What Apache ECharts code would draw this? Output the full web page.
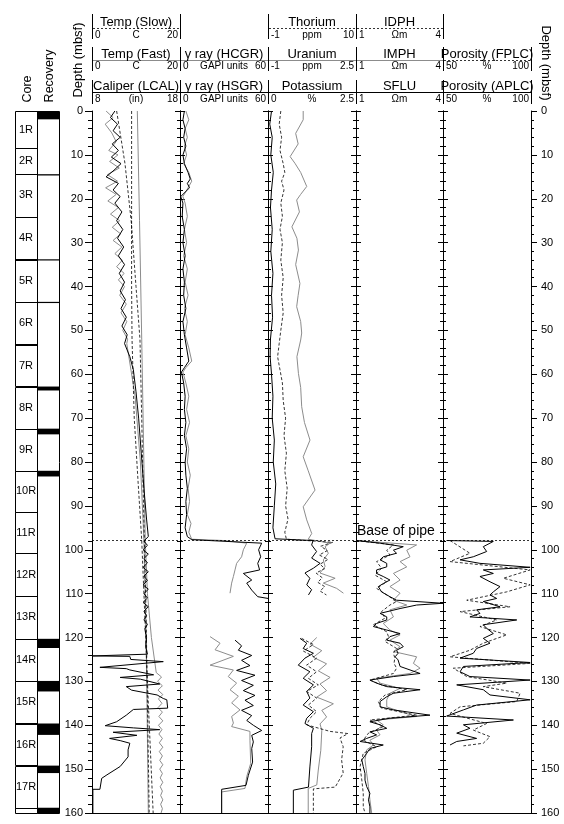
<!DOCTYPE html>
<html><head><meta charset="utf-8">
<script src="https://cdn.jsdelivr.net/npm/echarts@6.0.0/dist/echarts.min.js"></script>
<style>html,body{margin:0;padding:0;background:#fff}#c{width:564px;height:824px}</style>
</head><body><div id="c"></div><script>
// ---------------- DATA ----------------
const depthMin = 0, depthMax = 160, depthStep = 10;
const pipeDepth = 97.8;
const coreNames   = ['1R','2R','3R','4R','5R','6R','7R','8R','9R','10R','11R','12R','13R','14R','15R','16R','17R','18R'];
const coreTops    = [0,8.5,14.4,24.1,33.8,43.5,53.2,62.8,72.4,82.0,91.4,100.8,110.5,120.3,129.9,139.6,149.2,158.8];
const coreBottoms = [8.5,14.4,24.1,33.8,43.5,53.2,62.8,72.4,82.0,91.4,100.8,110.5,120.3,129.9,139.6,149.2,158.8,168.4];
const recoveryTops    = [0,14.4,33.8,43.5,62.8,72.4,82.0,120.3,129.9,139.6,149.2,158.8];
const recoveryBottoms = [1.9,14.7,34.0,43.7,63.7,73.7,83.3,122.4,132.3,142.2,150.9,160];

// header: [title, low tick, unit, high tick] per track, rows top->bottom
const track1Header = [['Temp (Slow)','0','C','20'],['Temp (Fast)','0','C','20'],['Caliper (LCAL)','8','(in)','18']];
const track2Header = [null,['γ ray (HCGR)','0','GAPI units','60'],['γ ray (HSGR)','0','GAPI units','60']];
const track3Header = [['Thorium','-1','ppm','10'],['Uranium','-1','ppm','2.5'],['Potassium','0','%','2.5']];
const track4Header = [['IDPH','1','Ωm','4'],['IMPH','1','Ωm','4'],['SFLU','1','Ωm','4']];
const track5Header = [null,['Porosity (FPLC)','50','%','100'],['Porosity (APLC)','50','%','100']];

// Track 1 : temperature (C) and caliper (in)   [value, depth]
const tempSlowDown = [[9.0,0],[9.0,20],[9.0,40],[9.1,52],[9.6,70],[10.5,85],[11.3,97.8],[12.0,115],[12.8,135],[13.9,160]];
const tempSlowUp = [[5.6,0],[7.5,12],[8.9,25],[10.0,40],[10.9,52],[11.3,70],[11.6,85],[11.9,97.8],[12.3,115],[12.6,135],[13.0,160]];
const tempFastDown = [[3.2,0],[4.8,1.5],[3.0,3],[4.5,5],[5.5,7],[3.8,9],[5.9,10],[4.0,11.5],[6.2,13],[3.5,14.5],[5.8,16],[3.1,17.5],[5.5,19],[3.6,20.5],[6.0,22],[4.2,23.5],[6.3,25],[4.6,26.5],[6.5,28],[4.8,29.5],[6.8,31],[5.2,32.5],[6.9,34],[5.6,35.5],[7.3,37],[6.0,38.5],[7.4,40],[6.3,42],[7.8,44],[6.6,46],[7.9,48],[7.0,50],[8.1,52],[7.9,53],[9.8,65],[11.0,80],[11.8,97.8],[12.2,115],[12.5,135],[12.8,160]];
const tempFastUp = [[10.3,0],[10.8,25],[11.3,52],[11.7,75],[12.1,97.8],[12.6,110],[13.5,120],[14.6,128],[15.8,129],[14.9,130],[16.0,131],[15.0,132],[16.1,133],[15.1,134],[15.9,135],[15.0,136],[16.0,137],[15.2,138],[16.1,139],[15.1,140],[15.9,141],[15.2,142],[16.0,143],[15.3,144],[16.1,145],[15.3,146],[16.0,147],[15.4,148],[16.1,149],[15.4,150],[16.0,151],[15.5,152],[16.1,153],[15.5,154],[16.0,155],[15.6,156],[16.1,157],[15.6,158],[16.0,159],[15.7,160]];
const caliper = [[10.6,0],[10.1,1.5],[10.9,3],[10.4,4.5],[11.2,6],[10.3,7.5],[11.0,9],[10.2,10.5],[11.3,12],[10.5,13.5],[9.6,15],[11.0,16.5],[10.4,18],[11.2,19.5],[10.6,21],[11.4,23],[10.8,25],[11.5,27],[10.9,29],[11.6,31],[11.0,33],[11.7,35],[11.1,37],[11.7,39],[11.2,41],[11.8,43],[11.3,45],[11.9,47],[11.4,49],[12.0,51],[11.7,53],[12.3,56],[12.7,59],[13.0,64],[13.3,70],[13.6,78],[13.9,86],[14.2,93],[14.4,97],[13.9,98],[14.3,99],[13.8,100],[14.4,101],[13.9,102],[14.3,103],[13.8,104],[14.4,105],[13.9,106],[14.3,107],[13.8,108],[14.4,109],[13.9,110],[14.3,111],[13.8,112],[14.4,113],[13.9,114],[14.2,115],[13.9,116],[14.3,117],[14.0,118],[14.2,120],[14.1,122],[14.3,123.8],[8.1,124.2],[12.3,124.3],[12.4,125],[16.1,125.5],[8.9,126.8],[11.9,127.1],[12.3,127.4],[15.0,128.5],[11.2,129.1],[13.5,129.5],[15.7,130.6],[11.9,131.2],[12.5,132],[15.4,133.1],[16.1,133.9],[16.5,134.2],[16.6,136.1],[12.7,136.4],[11.9,137.7],[10.8,139.2],[9.5,140.1],[12.7,140.6],[15.7,141.0],[10.4,141.6],[13.1,142.3],[10.0,143.0],[11.2,143.5],[12.3,144.1],[12.1,145.6],[12.1,147.2],[11.2,149.4],[9.7,151.3],[9.1,152.1],[8.9,154.6],[8.1,154.6],[8.1,160]];

// Track 2 : gamma ray (GAPI)
const hcgrUpper = [[4,0],[6,2],[3.5,4],[5,6],[3,8],[4.5,10],[2.5,12],[6,14],[8,16],[5.5,17.5],[2,19.5],[3.5,21],[5,24],[3,27],[4.5,30],[2.5,33],[5,36],[3.5,39],[5.5,42],[3,45],[5,48],[3.5,51],[6,54],[8,57],[4,58.5],[2,59.5],[4,62],[6,65],[4.5,68],[6.5,71],[4,74],[6,77],[5,80],[7,83],[5.5,86],[6.5,89],[5,92],[7.5,94],[6,96],[8,97.6],[30,97.9],[45.5,98.5],[43.2,100],[42.0,101.6],[38.6,103.1],[37.5,104.6],[36.4,106.1],[35.2,107.6],[34.1,109.9]];
const hcgrLower = [[20.5,119.8],[27.3,121.3],[23.9,122.8],[36.4,124.3],[20.5,126.3],[36.4,127.4],[32.9,128.9],[38.6,130.4],[34.1,131.9],[39.8,133.4],[35.2,134.9],[40.9,136.5],[35.2,138.0],[36.4,139.5],[35.2,140.3],[47.7,141.4],[47.7,143.4],[48.2,148.7],[45.5,151.7],[44.3,154.4],[28.4,155.2],[28.4,160]];
const hsgrUpper = [[3,0],[2,2],[3.5,4],[2.5,6],[4,8],[2,10],[3,12],[5.5,14],[7,15.5],[5,16.5],[6.5,17.5],[0.5,19.5],[2,21],[1.5,24],[3,27],[2,30],[3.5,33],[2,36],[3,39],[2.5,42],[4,45],[2,48],[3,51],[4.5,54],[6,57],[3,58.5],[1,59.5],[2.5,62],[3.5,65],[3,68],[4,71],[3,74],[4.5,77],[3.5,80],[4,83],[5,86],[4,89],[4.5,92],[3.5,95],[5,97],[8,97.7],[55.7,98.5],[53.6,100],[55,101.6],[53,103.1],[54.3,104.6],[43.2,105.4],[48.9,106.9],[45.5,107.6],[48.9,109.2],[53,110.7],[60,111.1]];
const hsgrLower = [[37.5,120.6],[42.0,121.9],[39.8,122.9],[48.9,124.1],[42.0,125.2],[47.7,126.4],[38.6,127.5],[51.1,128.6],[42.0,129.8],[50.0,130.9],[43.2,132.1],[51.1,133.2],[44.3,134.3],[50.0,135.5],[42.0,136.6],[48.9,137.8],[45.5,138.9],[50.0,140.0],[55.7,141.2],[48.9,142.3],[50.0,143.8],[48.9,145.3],[49.5,148.4],[46.6,151.4],[45.0,153.7],[28.4,154.6],[28.4,160]];

// Track 3 : thorium (ppm), uranium (ppm), potassium (%)
const thoriumUpper = [[0.6,0],[0.4,3],[0.7,6],[0.5,9],[0.9,12],[1.1,14],[0.7,16],[1.0,18],[0.6,21],[0.8,24],[0.5,27],[0.8,30],[0.6,34],[0.9,38],[0.7,42],[0.9,46],[0.6,50],[0.4,53],[0.2,56],[0.5,59],[0.8,62],[0.9,66],[1.2,70],[1.0,74],[1.3,78],[1.1,82],[1.4,86],[1.2,90],[1.5,93],[1.1,96],[1.3,97.6],[7.1,98.3],[5.6,99.2],[6.4,100.2],[5.4,101.2],[6.5,102.2],[5.5,103.3],[6.1,104.3],[5.0,105.3],[5.8,106.4],[5.2,107.4],[6.1,108.4],[5.5,109.4],[6.3,110.3]];
const thoriumLower = [[3.2,120.2],[4.67,121.6],[3.42,123.1],[5.08,124.7],[3.83,126.3],[5.08,127.8],[4.04,129.3],[5.29,130.8],[3.83,132.3],[5.08,133.8],[4.04,135.4],[5.08,136.9],[4.25,138.4],[3.83,139.9],[6.75,141.4],[9.0,141.9],[8.0,142.9],[8.4,144.9],[8.2,147.9],[8.4,150.9],[7.4,154.1],[4.67,154.5],[4.67,160]];
const uraniumUpper = [[0.4,0],[0.4,2],[0.1,5.1],[0.2,7.5],[-0.12,10.4],[0.07,11.9],[0.3,14],[0.54,17.2],[0.3,19],[0.14,20.3],[0.25,23],[-0.05,26.4],[0.15,29],[0.21,31.7],[0.1,35],[0.27,39.3],[0.2,42],[0.14,44.6],[0.3,48],[0.34,50.6],[0.3,52.2],[0.15,56],[0.21,59.8],[0.3,63],[0.34,67.4],[0.45,71],[0.67,75],[0.4,78.8],[0.6,82],[0.87,86.4],[0.4,90.2],[0.54,93.2],[0.74,96.3],[0.6,97.6],[1.47,98.5],[1.27,99.3],[1.40,100.8],[1.2,102.3],[1.27,103.8],[1.07,105.3],[1.67,106.5],[1.2,107.6],[1.73,108.8],[2.0,109.9]];
const uraniumLower = [[0.94,120.0],[0.67,121.5],[1.14,123.0],[0.80,124.5],[1.33,126.0],[1.0,127.6],[1.47,129.1],[1.07,130.6],[1.33,132.1],[0.94,133.6],[1.60,135.1],[1.14,136.6],[1.33,138.1],[1.07,139.7],[1.14,141.2],[1.10,145.7],[1.0,150.2],[0.94,153.6],[0.6,154.4],[0.6,160]];
const potassiumUpper = [[0.1,0],[0.05,3],[0.12,6],[0.08,10],[0.15,14],[0.1,18],[0.07,22],[0.12,27],[0.08,32],[0.14,37],[0.1,42],[0.13,47],[0.07,52],[0.06,56],[0.1,60],[0.14,65],[0.12,70],[0.18,75],[0.15,80],[0.22,85],[0.18,90],[0.14,95],[0.2,97.5],[1.28,97.9],[1.24,98.9],[1.38,100.4],[1.24,101.9],[1.48,103.1],[1.29,104.2],[1.05,105.3],[1.19,106.5],[1.10,108.0],[1.24,109.1],[1.15,110.3]];
const potassiumLower = [[0.91,120.2],[1.10,121.3],[1.0,122.5],[1.29,123.6],[1.05,124.7],[0.86,126.3],[1.19,127.8],[1.0,129.3],[1.29,130.8],[1.10,132.3],[1.19,133.8],[1.0,135.4],[1.29,136.9],[1.10,138.4],[1.05,139.6],[1.29,140.7],[1.24,141.9],[1.24,144.9],[1.19,149.5],[1.15,154.1],[0.72,154.8],[0.72,160]];

// Track 4 : resistivity (ohm m)
const idph = [[1.0,97.9],[2.29,98.9],[2.06,100.1],[2.17,101.2],[1.71,102.7],[1.88,104.2],[1.66,105.8],[2.06,107.3],[1.71,108.8],[2.06,110.3],[2.40,111.8],[2.17,112.6],[1.88,114.1],[2.0,115.6],[1.60,117.1],[2.06,118.7],[2.12,119.8],[2.0,120.9],[2.40,122.5],[2.29,123.6],[2.34,124.7],[2.31,125.9],[2.40,127.0],[2.29,128.2],[1.48,129.7],[1.88,130.8],[2.75,131.9],[2.0,133.1],[1.77,134.6],[1.88,136.1],[3.09,137.7],[1.48,138.8],[1.94,140.3],[1.43,141.8],[1.25,143.4],[1.71,144.9],[1.25,146.4],[1.14,149.4],[1.20,152.5],[1.25,155.5],[1.25,158.6],[1.31,160]];
const imph = [[1.0,97.9],[3.09,98.9],[2.75,100.1],[2.86,101.6],[2.52,102.7],[2.75,103.9],[2.29,105.4],[2.52,106.9],[2.17,108.4],[2.52,109.9],[2.29,111.5],[2.75,112.6],[2.17,113.7],[2.29,115.3],[1.94,116.8],[2.17,118.3],[2.52,119.4],[2.17,120.6],[2.52,122.1],[2.29,123.2],[3.09,124.4],[2.98,125.9],[3.21,127.0],[2.86,128.2],[1.71,129.3],[1.83,130.4],[2.52,131.6],[2.17,132.7],[2.06,134.2],[2.06,135.8],[2.52,136.9],[3.09,138.0],[1.71,138.8],[1.94,139.9],[1.71,141.1],[1.83,142.2],[1.48,143.4],[1.60,144.5],[1.37,145.6],[1.31,147.9],[1.37,151.0],[1.43,154.0],[1.48,157.0],[1.54,160]];
const sflu = [[1.0,97.9],[1.83,98.5],[2.63,99.3],[2.29,100.1],[2.40,100.8],[1.94,101.6],[1.83,102.3],[2.06,103.1],[2.06,103.9],[1.71,104.6],[1.71,105.4],[1.94,106.1],[2.17,106.9],[1.94,107.7],[1.77,108.4],[1.88,109.6],[2.17,110.7],[2.40,111.5],[4.0,112.2],[3.09,112.6],[2.52,113.4],[1.83,114.5],[2.06,115.3],[2.06,116.0],[1.71,116.8],[1.60,117.5],[2.06,118.3],[2.52,119.1],[2.17,119.8],[2.06,120.6],[2.52,121.3],[2.63,122.1],[2.40,122.9],[2.45,123.6],[2.35,124.4],[2.45,125.1],[2.52,126.6],[3.21,128.2],[2.29,128.9],[1.48,129.7],[1.71,130.4],[2.06,131.2],[3.21,131.9],[2.29,132.7],[2.06,133.5],[1.83,134.6],[1.83,135.8],[2.29,136.5],[3.55,137.7],[2.17,138.4],[1.48,139.2],[1.83,139.9],[2.06,140.7],[1.48,141.5],[1.71,142.2],[1.37,143.0],[1.14,143.7],[1.94,144.5],[1.48,145.3],[1.37,146.4],[1.20,147.9],[1.25,149.4],[1.31,151.0],[1.31,152.5],[1.37,154.0],[1.48,155.5],[1.43,157.0],[1.48,158.6],[1.48,160]];

// Track 5 : porosity (%)
const fplc = [[54,97.9],[65.3,100.8],[54.0,102.7],[99.5,104.6],[84.3,106.5],[99.5,108.0],[86.2,109.6],[63.5,111.5],[88.1,113.0],[59.7,114.1],[80.5,116.0],[71.0,117.5],[86.2,119.4],[72.9,121.3],[65.3,122.9],[54.0,124.4],[99.5,125.9],[55.9,127.0],[63.5,128.9],[86.2,130.4],[72.9,131.2],[93.8,132.7],[91.9,134.6],[59.7,135.8],[54.0,137.3],[74.8,139.6],[67.2,141.1],[76.7,142.6],[72.9,144.1],[61.6,144.7]];
const aplc = [[52,97.9],[78.6,98.1],[72.9,99.3],[74.8,100.4],[67.2,101.6],[59.7,102.3],[71.0,103.1],[99.5,104.0],[72.9,104.6],[78.6,105.4],[71.0,106.1],[76.7,107.3],[82.4,108.4],[78.6,109.6],[76.7,110.3],[80.5,111.1],[72.9,111.8],[82.4,113.0],[69.1,113.7],[71.0,114.5],[65.3,115.3],[91.9,116.0],[72.9,117.1],[74.8,117.9],[78.6,119.1],[72.9,120.2],[76.7,121.3],[69.1,122.5],[67.2,123.6],[59.7,124.7],[99.5,125.7],[61.6,126.6],[59.7,127.8],[65.3,128.9],[99.5,129.7],[57.8,130.8],[72.9,131.9],[76.7,133.1],[99.5,134.2],[69.1,135.4],[61.6,136.5],[52.1,137.9],[90.0,138.8],[61.6,139.9],[65.3,140.7],[57.8,141.8],[69.1,143.0],[57.8,143.7],[54.0,144.5]];

// ---------------- LAYOUT / STYLE ----------------
const TOP = 111, H = 702;
const XS = [92,180,268,356,443,531];
const FONT = '"Liberation Sans", Arial, Helvetica, sans-serif';
const STY = {
  dash:  {color:'#000', width:0.8, type:[3,2]},
  gray:  {color:'#8c8c8c', width:1, type:'solid'},
  solid: {color:'#000', width:1, type:'solid'}
};
const rowKinds = [['dash','gray','solid'],['dash','gray','solid'],['dash','gray','solid'],['dash','gray','solid'],['dash','dash','solid']];
const headers = [track1Header, track2Header, track3Header, track4Header, track5Header];

// curve specs: [track, data, min, max, kind]
const curves = [
  [0, tempFastDown, 0, 20, 'gray'], [0, tempFastUp, 0, 20, 'gray'],
  [0, tempSlowDown, 0, 20, 'dash'], [0, tempSlowUp, 0, 20, 'dash'],
  [0, caliper, 8, 18, 'solid'],
  [1, hcgrUpper, 0, 60, 'gray'], [1, hcgrLower, 0, 60, 'gray'],
  [1, hsgrUpper, 0, 60, 'solid'], [1, hsgrLower, 0, 60, 'solid'],
  [2, uraniumUpper, -1, 2.5, 'gray'], [2, uraniumLower, -1, 2.5, 'gray'],
  [2, thoriumUpper, -1, 10, 'dash'], [2, thoriumLower, -1, 10, 'dash'],
  [2, potassiumUpper, 0, 2.5, 'solid'], [2, potassiumLower, 0, 2.5, 'solid'],
  [3, imph, 1, 4, 'gray'], [3, idph, 1, 4, 'dash'], [3, sflu, 1, 4, 'solid'],
  [4, fplc, 50, 100, 'dash'], [4, aplc, 50, 100, 'solid']
];

const grids = [{left:15, top:TOP, width:44, height:H}];
for (let i=0;i<5;i++) grids.push({left:XS[i], top:TOP, width:XS[i+1]-XS[i], height:H});

const xAxes = [{gridIndex:0, type:'value', min:0, max:2, show:false}];
const yAxes = [{gridIndex:0, type:'value', inverse:true, min:depthMin, max:depthMax, show:false}];
const primaryY = [];
function depthAxis(g, pos, inside, major, minor, label) {
  return {gridIndex:g, type:'value', inverse:true, min:depthMin, max:depthMax, interval:depthStep, position:pos,
    axisLine:{show:true, onZero:false, lineStyle:{color:'#000', width:1}},
    axisTick:{show:true, inside:inside, length:major, lineStyle:{color:'#000', width:1}},
    minorTick:{show:true, splitNumber:5, length:minor, lineStyle:{color:'#000', width:1}},
    splitLine:{show:false}, minorSplitLine:{show:false},
    axisLabel: label ? {show:true, fontSize:11, color:'#000', fontFamily:FONT, margin:label, showMinLabel:true, showMaxLabel:true} : {show:false}
  };
}
for (let i=0;i<5;i++) {
  primaryY[i] = yAxes.length;
  yAxes.push(depthAxis(i+1, 'left', false, i?5:7, i?3:4, i?0:9));
  if (i>0) yAxes.push(depthAxis(i+1, 'left', true, 5, 3, 0));
  if (i===4) yAxes.push(depthAxis(i+1, 'right', false, 6, 3, 10));
  xAxes.push({gridIndex:i+1, type:'value', min:0, max:1, position:'bottom',
    axisLine:{show:true, onZero:false, lineStyle:{color:'#000', width:1}},
    axisTick:{show:false}, axisLabel:{show:false}, splitLine:{show:false}});
}

const series = [];
const markedTrack = {};
curves.forEach(([t, data, mn, mx, kind]) => {
  const xi = xAxes.length;
  xAxes.push({gridIndex:t+1, type:'value', min:mn, max:mx, show:false});
  const s = {type:'line', xAxisIndex:xi, yAxisIndex:primaryY[t], data:data, symbol:'none', showSymbol:false,
    lineStyle:STY[kind], silent:true, animation:false, z: kind==='gray'?2:3};
  if (!markedTrack[t]) {
    markedTrack[t] = true;
    s.markLine = {silent:true, symbol:'none', animation:false,
      lineStyle:{color:'#000', width:0.8, type:[2,2]},
      label: t===3 ? {show:true, formatter:'Base of pipe', position:'insideStartTop', color:'#000', fontSize:14, fontFamily:FONT, distance:[1,2]} : {show:false},
      data:[{yAxis:pipeDepth}]};
  }
  series.push(s);
});

// core column
series.push({type:'custom', xAxisIndex:0, yAxisIndex:0, silent:true, animation:false,
  data: coreNames.map((n,i)=>[0.5, coreTops[i], coreBottoms[i]]),
  renderItem:(params, api)=>{
    const t = api.value(1), b = Math.min(api.value(2), depthMax);
    const p1 = api.coord([0,t]), p2 = api.coord([1,b]);
    const ch = [{type:'rect', shape:{x:Math.round(p1[0])+0.5, y:Math.round(p1[1])+0.5, width:Math.round(p2[0]-p1[0]), height:Math.round(p2[1]-p1[1])},
      style:{fill:'none', stroke:'#000', lineWidth:1}}];
    if (b - t > 3) ch.push({type:'text', x:(p1[0]+p2[0])/2, y:(p1[1]+p2[1])/2,
      style:{text:coreNames[params.dataIndex], fill:'#000', font:'11px '+FONT, align:'center', verticalAlign:'middle'}});
    return {type:'group', children:ch};
  }});
// recovery column frame
series.push({type:'custom', xAxisIndex:0, yAxisIndex:0, silent:true, animation:false,
  data:[[1.5, depthMin, depthMax]],
  renderItem:(params, api)=>{
    const p1 = api.coord([1,api.value(1)]), p2 = api.coord([2,api.value(2)]);
    return {type:'rect', shape:{x:Math.round(p1[0])+0.5, y:Math.round(p1[1])+0.5, width:Math.round(p2[0]-p1[0]), height:Math.round(p2[1]-p1[1])},
      style:{fill:'none', stroke:'#000', lineWidth:1}};
  }});
// recovery bars
series.push({type:'custom', xAxisIndex:0, yAxisIndex:0, silent:true, animation:false,
  data: recoveryTops.map((t,i)=>[1.5, t, recoveryBottoms[i]]),
  renderItem:(params, api)=>{
    const p1 = api.coord([1,api.value(1)]), p2 = api.coord([2,api.value(2)]);
    return {type:'rect', shape:{x:p1[0], y:p1[1], width:p2[0]-p1[0], height:Math.max(1.2, p2[1]-p1[1])}, style:{fill:'#000'}};
  }});

// ---------------- HEADER ----------------
const rowTitleY = [22, 54, 86], rowLineY = [28.5, 60.5, 92.5], rowScaleY = [35.5, 66.5, 99];
const rowSegTop = [14, 47, 80], rowSegBot = [39, 71, 104];
const G = [];
const txt = (x,y,s,size,align,rot) => ({type:'text', x:x, y:y, rotation:rot||0,
  style:{text:s, fill:'#000', font:size+'px '+FONT, align:align||'center', verticalAlign:'middle'}, silent:true});
for (let r=0;r<3;r++) {
  for (let k=0;k<6;k++) {
    if (k===5 && !headers[4][r]) continue;
    G.push({type:'line', shape:{x1:XS[k]+0.5, y1:rowSegTop[r], x2:XS[k]+0.5, y2:rowSegBot[r]}, style:{stroke:'#000', lineWidth:1}, silent:true});
  }
  for (let t=0;t<5;t++) {
    const h = headers[t][r]; if (!h) continue;
    const x0 = XS[t], x1 = XS[t+1], cx = (x0+x1)/2;
    const kind = rowKinds[t][r];
    const ls = {stroke: kind==='gray' ? '#8c8c8c' : '#000', lineWidth: kind==='dash'?0.8:1};
    if (kind==='dash') ls.lineDash = [2,2];
    G.push({type:'line', shape:{x1:x0+1, y1:rowLineY[r], x2:x1, y2:rowLineY[r]}, style:ls, silent:true});
    G.push(txt(cx, rowTitleY[r], h[0], 13, 'center'));
    G.push(txt(x0+3, rowScaleY[r], h[1], 10, 'left'));
    G.push(txt(cx, rowScaleY[r], h[2], 10, 'center'));
    G.push(txt(x1-2, rowScaleY[r], h[3], 10, 'right'));
  }
}
G.push(txt(27.5, 89, 'Core', 12.5, 'center', Math.PI/2));
G.push(txt(50, 76, 'Recovery', 12.5, 'center', Math.PI/2));
G.push(txt(78, 60, 'Depth (mbsf)', 13, 'center', Math.PI/2));
G.push(txt(546, 63, 'Depth (mbsf)', 13, 'center', -Math.PI/2));

const chart = echarts.init(document.getElementById('c'), null, {renderer:'canvas'});
chart.setOption({
  animation:false,
  backgroundColor:'#fff',
  textStyle:{fontFamily:FONT},
  grid:grids, xAxis:xAxes, yAxis:yAxes, series:series,
  graphic:{elements:G}
});
</script></body></html>
